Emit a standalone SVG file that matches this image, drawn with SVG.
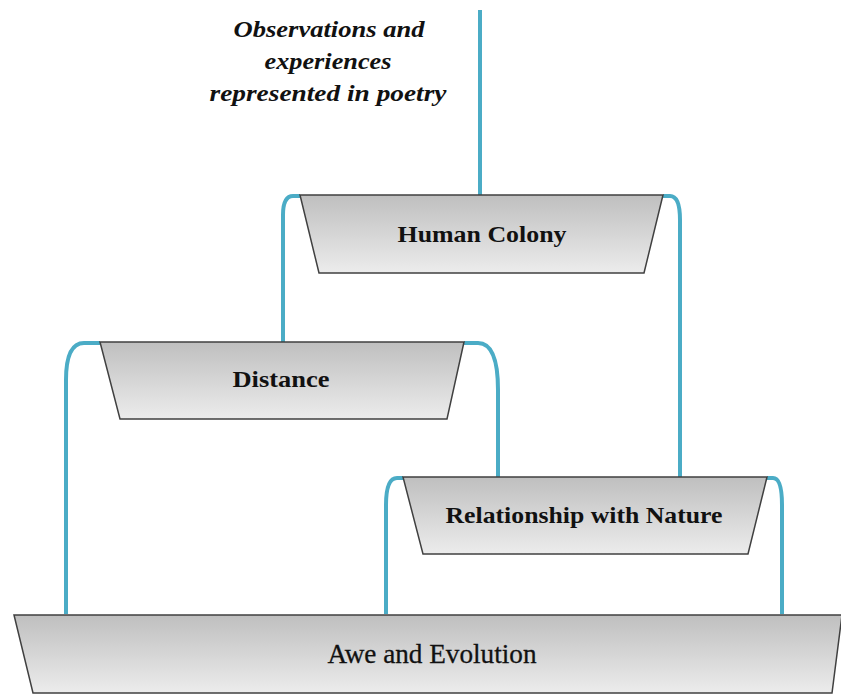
<svg xmlns="http://www.w3.org/2000/svg" width="841" height="694" viewBox="0 0 841 694">
<defs>
<linearGradient id="g" x1="0" y1="0" x2="0" y2="1">
<stop offset="0" stop-color="#bfbfbf"/>
<stop offset="1" stop-color="#ececec"/>
</linearGradient>
<style>
.n{fill:url(#g);stroke:#404040;stroke-width:1.5}
.t{font-family:"Liberation Serif",serif;font-weight:bold;font-size:23px;fill:#111;text-anchor:middle}
.a{font-family:"Liberation Serif",serif;font-size:28px;fill:#111;stroke:#111;stroke-width:0.3;text-anchor:middle}
.c{fill:none;stroke:#4bacc6;stroke-width:4}
.i{font-family:"Liberation Serif",serif;font-weight:bold;font-style:italic;font-size:23px;fill:#111;text-anchor:middle}
</style>
</defs>
<rect width="841" height="694" fill="#fff"/>
<g id="connectors">
<path class="c" d="M480 10 V195"/>
<path class="c" d="M300 196 H293 Q283 196 283 215 V342"/>
<path class="c" d="M663 196 H670 Q680 196 680 220 V477"/>
<path class="c" d="M100 343 H84 Q66 343 66 380 V614"/>
<path class="c" d="M464 343 H478 Q498 343 498 390 V477"/>
<path class="c" d="M403 478 H397 Q386 478 386 505 V614"/>
<path class="c" d="M767 478 H773 Q782 478 782 505 V614"/>
</g>
<g id="caption">
<text class="i" x="329" y="37" textLength="191" lengthAdjust="spacingAndGlyphs">Observations and</text>
<text class="i" x="328" y="69" textLength="127" lengthAdjust="spacingAndGlyphs">experiences</text>
<text class="i" x="328" y="101" textLength="237" lengthAdjust="spacingAndGlyphs">represented in poetry</text>
</g>
<g id="human-colony">
<polygon class="n" points="300,195 663,195 644,273 319,273"/>
<text class="t" x="482" y="242" textLength="169" lengthAdjust="spacingAndGlyphs">Human Colony</text>
</g>
<g id="distance">
<polygon class="n" points="100,342 464,342 447,419 120,419"/>
<text class="t" x="281" y="387" textLength="97" lengthAdjust="spacingAndGlyphs">Distance</text>
</g>
<g id="relationship">
<polygon class="n" points="403,477 767,477 748,554 423,554"/>
<text class="t" x="584" y="523" textLength="277" lengthAdjust="spacingAndGlyphs">Relationship with Nature</text>
</g>
<g id="awe">
<polygon class="n" points="14,615 842,615 832,693 33,693"/>
<text class="a" x="432" y="663" textLength="209" lengthAdjust="spacingAndGlyphs">Awe and Evolution</text>
</g>
</svg>
